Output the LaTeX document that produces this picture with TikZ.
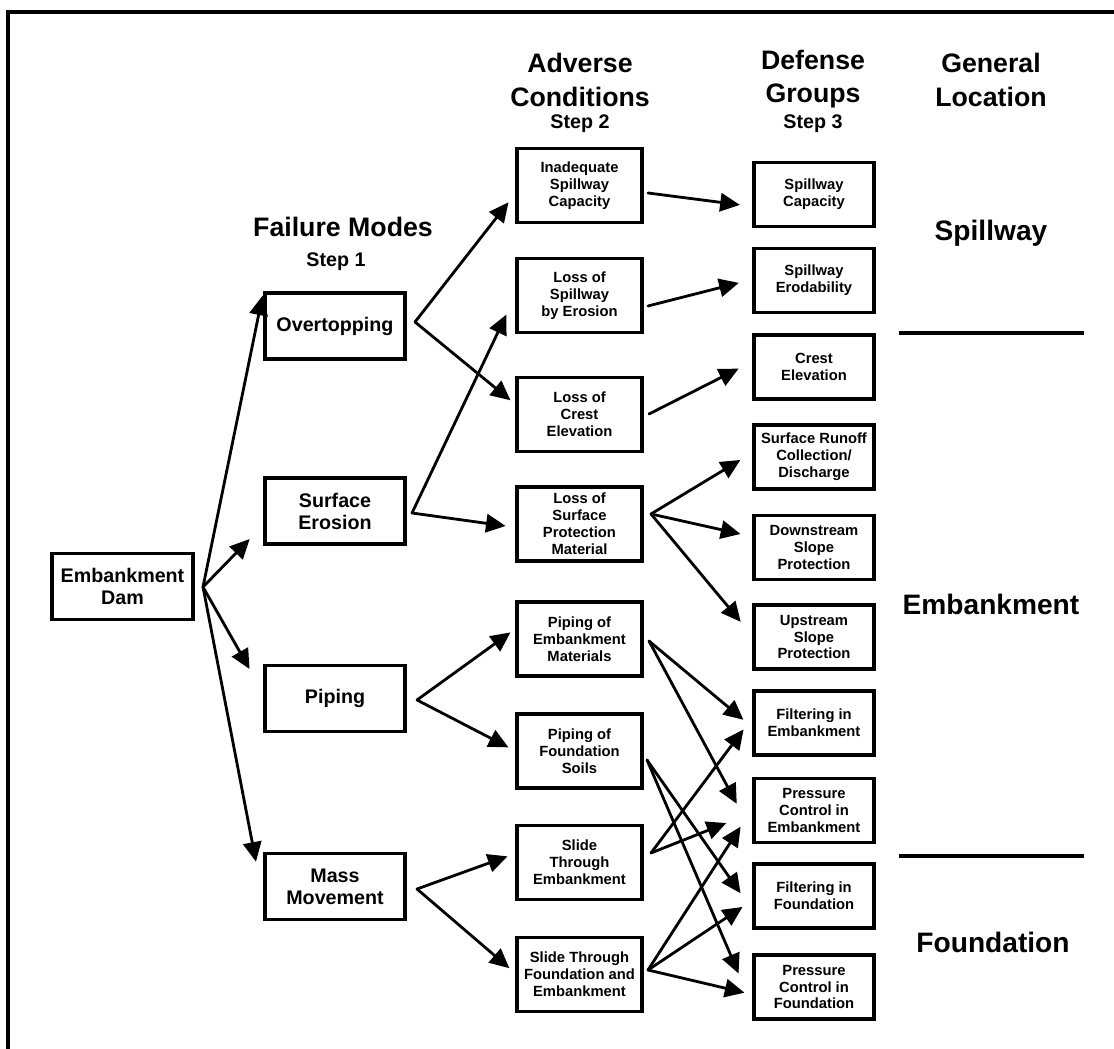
\documentclass[tikz,border=0pt]{standalone}
\usepackage{fontspec}
\setmainfont{Liberation Sans}
\usetikzlibrary{arrows.meta}

\begin{document}
\begin{tikzpicture}[x=0.025cm,y=-0.025cm]
\tikzstyle{modebox}=[draw,line width=2.2pt,minimum width=3.5cm,minimum height=1.65cm,inner sep=1pt,align=center,font=\bfseries\fontsize{14}{15.6}\selectfont]
\tikzstyle{condbox}=[modebox,minimum width=3.125cm,minimum height=1.85cm,font=\bfseries\fontsize{10.5}{12}\selectfont]
\tikzstyle{groupbox}=[condbox,minimum width=3cm,minimum height=1.6cm]
\tikzstyle{heading}=[align=center,font=\bfseries\fontsize{19}{24}\selectfont]
\tikzstyle{steplabel}=[font=\bfseries\fontsize{14}{16}\selectfont]
\tikzstyle{location}=[font=\bfseries\fontsize{20}{24}\selectfont]
\tikzstyle{link}=[-{Triangle[length=14pt,width=13pt]},line width=2pt,line cap=round]
\useasboundingbox (0,0) rectangle (1114,1049);

% Frame
\draw[line width=2.2pt] (8,1049) -- (8,12) -- (1114,12);

% Headings
\node (HFM) [heading] at (343,227) {Failure Modes};
\node (HS1) [steplabel] at (336,262) {Step 1};
\node (HAC) [heading] at (580,80) {Adverse\\Conditions};
\node (HS2) [steplabel] at (580,124) {Step 2};
\node (HDG) [heading] at (813,79) {Defense\\Groups};
\node (HS3) [steplabel] at (813,124) {Step 3};
\node (HGL) [heading] at (991,80) {General\\Location};

% General location
\node (LSP) [location] at (991,233) {Spillway};
\node (LEM) [location] at (991,604) {Embankment};
\node (LFO) [location] at (993,942) {Foundation};
\draw[line width=2.2pt] (899,333) -- (1084,333);
\draw[line width=2.2pt] (899,856) -- (1084,856);

% Dam and failure modes
\node (EDAM) [modebox,minimum width=3.525cm] at (122.5,586.5) {Embankment\\Dam};
\node (FMOT) [modebox] at (335,326) {Overtopping};
\node (FMSE) [modebox] at (335,511) {Surface\\Erosion};
\node (FMPI) [modebox] at (335,698.5) {Piping};
\node (FMMM) [modebox] at (335,886.5) {Mass\\Movement};

% Adverse conditions
\node (ACIS) [condbox] at (579.5,185.5) {Inadequate\\Spillway\\Capacity};
\node (ACSE) [condbox] at (579.5,295.5) {Loss of\\Spillway\\by Erosion};
\node (ACCE) [condbox] at (579.5,414.5) {Loss of\\Crest\\Elevation};
\node (ACSP) [condbox] at (579.5,524) {Loss of\\Surface\\Protection\\Material};
\node (ACPE) [condbox] at (579.5,639) {Piping of\\Embankment\\Materials};
\node (ACPF) [condbox] at (579.5,751) {Piping of\\Foundation\\Soils};
\node (ACST) [condbox] at (579.5,862.5) {Slide\\Through\\Embankment};
\node (ACSF) [condbox] at (579.5,974.5) {Slide Through\\Foundation and\\Embankment};

% Defense groups
\node (DGSC) [groupbox] at (814,194.5) {Spillway\\Capacity};
\node (DGSE) [groupbox] at (814,280.5) {Spillway\\Erodability};
\node (DGCE) [groupbox] at (814,367) {Crest\\Elevation};
\node (DGSR) [groupbox] at (814,457) {Surface Runoff\\Collection/\\Discharge};
\node (DGDS) [groupbox] at (814,547.5) {Downstream\\Slope\\Protection};
\node (DGUS) [groupbox] at (814,637) {Upstream\\Slope\\Protection};
\node (DGFE) [groupbox] at (814,723) {Filtering in\\Embankment};
\node (DGPE) [groupbox] at (814,810.5) {Pressure\\Control in\\Embankment};
\node (DGFF) [groupbox] at (814,896) {Filtering in\\Foundation};
\node (DGPF) [groupbox] at (814,987) {Pressure\\Control in\\Foundation};

% Fork points
\coordinate (EDAMF) at (203,587);
\coordinate (FMOTF) at (415,322);
\coordinate (FMSEF) at (412,513);
\coordinate (FMPIF) at (417,700);
\coordinate (FMMMF) at (417,889);
\coordinate (ACISF) at (648,193);
\coordinate (ACSEF) at (648,306);
\coordinate (ACCEF) at (649,414);
\coordinate (ACSPF) at (651,514);
\coordinate (ACPEF) at (649,641);
\coordinate (ACPFF) at (647,760);
\coordinate (ACSTF) at (651,853);
\coordinate (ACSFF) at (648,970);

% Dam -> failure modes
\draw[link,shorten >=3pt] (EDAMF) -- (FMOT.north west);
\draw[link,shorten >=14pt] (EDAMF) -- (FMSE.191);
\draw[link,shorten >=20pt] (EDAMF) -- (FMPI.176);
\draw[link,shorten >=28pt] (EDAMF) -- (FMMM.191);

% Failure modes -> adverse conditions
\draw[link,shorten >=8pt] (FMOTF) -- (ACIS.187);
\draw[link,shorten >=4.5pt] (FMOTF) -- (ACCE.171);
\draw[link,shorten >=15pt] (FMSEF) -- (ACSE.180);
\draw[link,shorten >=7pt] (FMSEF) -- (ACSP.183);
\draw[link,shorten >=4.3pt] (FMPIF) -- (ACPE.171);
\draw[link,shorten >=5.6pt] (FMPIF) -- (ACPF.180);
\draw[link,shorten >=6pt] (FMMMF) -- (ACST.172);
\draw[link,shorten >=5.6pt] (FMMMF) -- (ACSF.179);

% Adverse conditions -> defense groups
\draw[link,shorten >=9pt] (ACISF) -- (DGSC.191);
\draw[link,shorten >=10pt] (ACSEF) -- (DGSE.179);
\draw[link,shorten >=11pt] (ACCEF) -- (DGCE.175);
\draw[link,shorten >=10pt] (ACSPF) -- (DGSR.176);
\draw[link,shorten >=8.7pt] (ACSPF) -- (DGDS.170);
\draw[link,shorten >=13pt] (ACSPF) -- (DGUS.179);
\draw[link,shorten >=8.3pt] (ACPEF) -- (DGFE.184);
\draw[link,shorten >=23.5pt] (ACPEF) -- (DGPE.200);
\draw[link,shorten >=14.7pt] (ACPFF) -- (DGFF.193);
\draw[link,shorten >=25pt] (ACPFF) -- (DGPF.197);
\draw[link,shorten >=10.5pt] (ACSTF) -- (DGFE.175);
\draw[link,shorten >=20pt] (ACSTF) -- (DGPE.182);
\draw[link,shorten >=15.5pt] (ACSFF) -- (DGPE.178);
\draw[link,shorten >=8.5pt] (ACSFF) -- (DGFF.184);
\draw[link,shorten >=5.8pt] (ACSFF) -- (DGPF.187);

\end{tikzpicture}
\end{document}
